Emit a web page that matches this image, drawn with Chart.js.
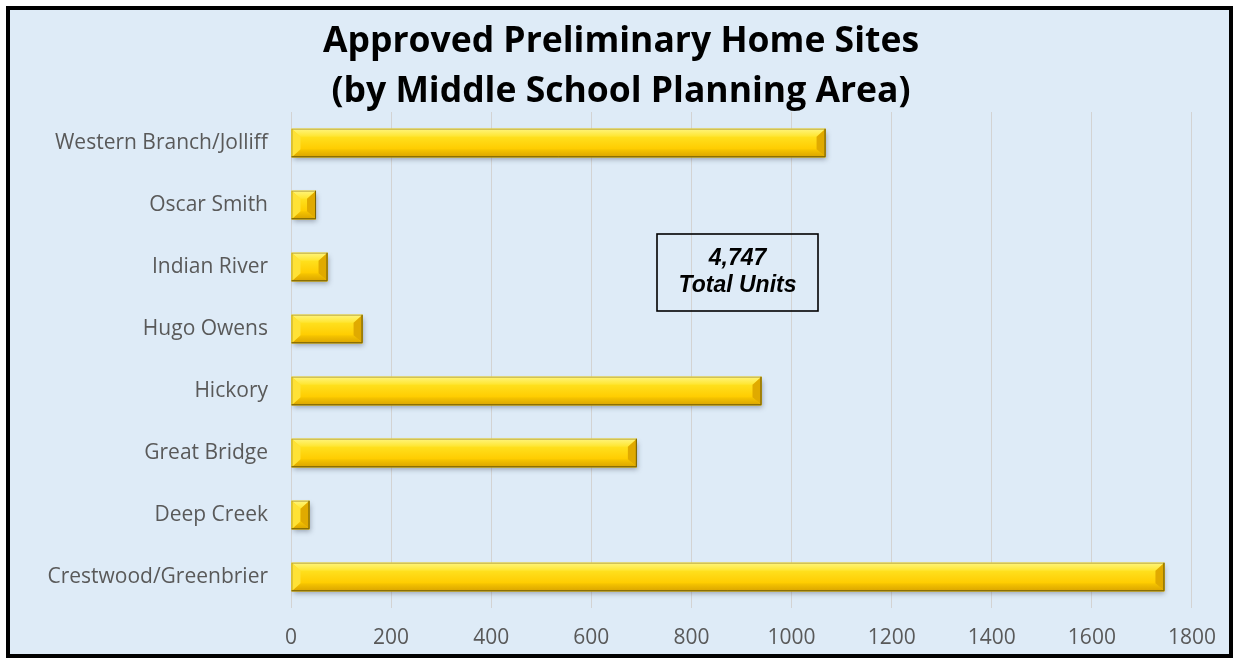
<!DOCTYPE html>
<html>
<head>
<meta charset="utf-8">
<title>Approved Preliminary Home Sites</title>
<script src="https://cdn.jsdelivr.net/npm/chart.js@4.4.1/dist/chart.umd.min.js"></script>
<style>
    html, body {
        margin: 0;
        padding: 0;
        background: #ffffff;
        overflow: hidden;
    }
    .frame {
        position: absolute;
        left: 6px;
        top: 6px;
        width: 1227px;
        height: 652px;
        box-sizing: border-box;
        border: 4px solid #000;
        background: #DEEBF7;
    }
    #homeSitesChart {
        position: absolute;
        left: 0;
        top: 0;
    }
</style>
</head>
<body>
<div class="frame"></div>
<canvas id="homeSitesChart" width="1233" height="658"></canvas>

<script>
// Chart data (top to bottom, as shown)
const planningAreas = [
    'Western Branch/Jolliff',
    'Oscar Smith',
    'Indian River',
    'Hugo Owens',
    'Hickory',
    'Great Bridge',
    'Deep Creek',
    'Crestwood/Greenbrier'
];
const approvedUnits = [1068, 50, 73, 143, 940, 691, 37, 1745];
const titleLines = ['Approved Preliminary Home Sites', '(by Middle School Planning Area)'];
const totalLines = ['4,747', 'Total Units'];
const axisMax = 1800;
const axisStep = 200;

/**
 * Excel style bevelled bars: draws the facets over each bar Chart.js placed
 */
const bevelBars = {
    id: 'bevelBars',
    beforeDatasetsDraw(chart) {
        const ctx = chart.ctx;
        ctx.save();
        ctx.shadowColor = 'rgba(70, 80, 100, 0.45)';
        ctx.shadowBlur = 5;
        ctx.shadowOffsetX = 1;
        ctx.shadowOffsetY = 3;
    },
    afterDatasetsDraw(chart) {
        const ctx = chart.ctx;
        ctx.restore();

        chart.getDatasetMeta(0).data.forEach(bar => {
            const { x, y, base, height } = bar.getProps(['x', 'y', 'base', 'height'], true);
            const left = Math.min(base, x);
            const right = Math.max(base, x);
            const top = y - height / 2;
            const bottom = y + height / 2;
            const b = Math.min(9, (right - left) / 2);
            const bv = Math.min(8, height / 2);

            const poly = (pts, fill) => {
                ctx.beginPath();
                ctx.moveTo(pts[0][0], pts[0][1]);
                pts.slice(1).forEach(p => ctx.lineTo(p[0], p[1]));
                ctx.closePath();
                ctx.fillStyle = fill;
                ctx.fill();
            };

            ctx.save();

            // flat face
            const face = ctx.createLinearGradient(0, top + bv, 0, bottom - bv);
            face.addColorStop(0, '#FFE01E');
            face.addColorStop(1, '#FFCC00');
            ctx.fillStyle = face;
            ctx.fillRect(left, top, right - left, height);

            // top facet
            const topGrad = ctx.createLinearGradient(0, top, 0, top + bv);
            topGrad.addColorStop(0, '#FFF57E');
            topGrad.addColorStop(1, '#FFE52E');
            poly([[left, top], [right, top], [right - b, top + bv], [left + b, top + bv]], topGrad);

            // bottom facet
            const botGrad = ctx.createLinearGradient(0, bottom - bv, 0, bottom);
            botGrad.addColorStop(0, '#F7C600');
            botGrad.addColorStop(1, '#D9A300');
            poly([[left, bottom], [right, bottom], [right - b, bottom - bv], [left + b, bottom - bv]], botGrad);

            // left and right facets
            poly([[left, top], [left + b, top + bv], [left + b, bottom - bv], [left, bottom]], '#FFE236');
            poly([[right, top], [right - b, top + bv], [right - b, bottom - bv], [right, bottom]], '#E0AA00');

            // edges
            ctx.lineWidth = 1;
            ctx.strokeStyle = 'rgba(140, 120, 40, 0.55)';
            ctx.strokeRect(left + 0.5, top + 0.5, right - left - 1, height - 1);
            ctx.strokeStyle = '#7A6300';
            ctx.beginPath();
            ctx.moveTo(left, bottom - 0.5);
            ctx.lineTo(right - 0.5, bottom - 0.5);
            ctx.lineTo(right - 0.5, top);
            ctx.stroke();

            ctx.restore();
        });
    }
};

// Boxed "total units" note
const totalNote = {
    id: 'totalNote',
    afterDraw(chart) {
        const ctx = chart.ctx;
        const box = { left: 657, top: 234, width: 161, height: 77 };
        ctx.save();
        ctx.lineWidth = 1.6;
        ctx.strokeStyle = '#000';
        ctx.strokeRect(box.left, box.top, box.width, box.height);

        ctx.fillStyle = '#000';
        ctx.font = 'italic bold 23px "Liberation Sans", Arial, sans-serif';
        ctx.textAlign = 'center';
        ctx.textBaseline = 'middle';
        const cx = box.left + box.width / 2;
        ctx.fillText(totalLines[0], cx, 259);
        ctx.fillText(totalLines[1], cx, 286);
        ctx.restore();
    }
};

document.addEventListener('DOMContentLoaded', function() {
    const ctx = document.getElementById('homeSitesChart');

    window.homeSitesChart = new Chart(ctx.getContext('2d'), {
        type: 'bar',
        data: {
            labels: planningAreas,
            datasets: [{
                label: 'Approved Units',
                data: approvedUnits,
                backgroundColor: '#FFD400',
                borderWidth: 0,
                categoryPercentage: 1,
                barPercentage: 0.46
            }]
        },
        options: {
            indexAxis: 'y',
            responsive: false,
            animation: false,
            events: [],
            layout: {
                padding: { left: 48, right: 39, top: 0, bottom: 8 }
            },
            plugins: {
                legend: { display: false },
                tooltip: { enabled: false },
                title: {
                    display: true,
                    text: titleLines,
                    color: '#000',
                    font: {
                        family: '"Open Sans", sans-serif',
                        size: 35.5,
                        weight: 'bold',
                        lineHeight: 50 / 35.5
                    },
                    padding: { top: 17, bottom: -5 }
                }
            },
            scales: {
                x: {
                    min: 0,
                    max: axisMax,
                    ticks: {
                        stepSize: axisStep,
                        color: '#595959',
                        padding: 17,
                        font: { family: '"Open Sans", sans-serif', size: 21 },
                        callback: (value) => String(value)
                    },
                    grid: {
                        color: '#D3D3D3',
                        lineWidth: 1,
                        drawTicks: false
                    },
                    border: { display: false },
                    afterFit: (scale) => { scale.height = 42; }
                },
                y: {
                    ticks: {
                        color: '#595959',
                        padding: 23,
                        font: { family: '"Open Sans", sans-serif', size: 21 }
                    },
                    grid: { display: false, drawTicks: false },
                    border: { display: false },
                    afterFit: (scale) => { scale.width = 243; }
                }
            }
        },
        plugins: [bevelBars, totalNote]
    });
});
</script>
</body>
</html>
